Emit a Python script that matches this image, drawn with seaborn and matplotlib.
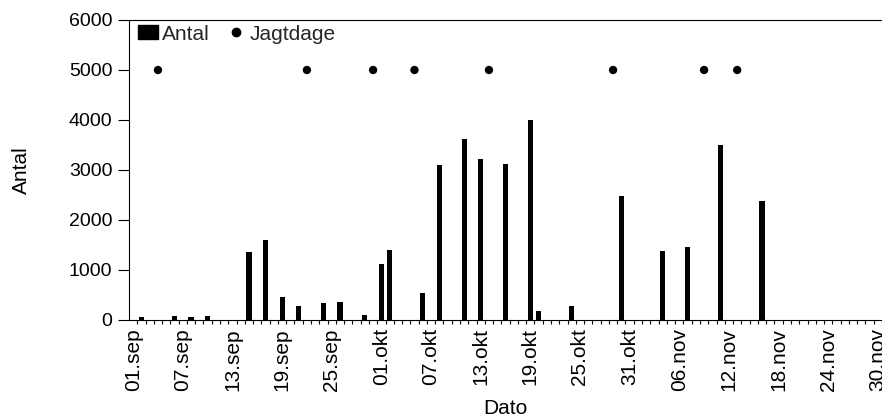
import numpy as np
import pandas as pd
import matplotlib
matplotlib.use("Agg")
import matplotlib.pyplot as plt
from matplotlib.patches import Patch
from matplotlib.lines import Line2D
import seaborn as sns

# ---- data ----
month_names = {9: "sep", 10: "okt", 11: "nov"}
all_days = [f"{d.day:02d}.{month_names[d.month]}" for d in pd.date_range("2021-09-01", "2021-11-30")]

bar_dates = ["02.sep", "06.sep", "08.sep", "10.sep", "15.sep", "17.sep", "19.sep", "21.sep",
             "24.sep", "26.sep", "29.sep", "01.okt", "02.okt", "06.okt", "08.okt", "11.okt",
             "13.okt", "16.okt", "19.okt", "20.okt", "24.okt", "30.okt", "04.nov", "07.nov",
             "11.nov", "16.nov"]
bar_values = [55, 85, 60, 85, 1360, 1600, 470, 280,
              340, 360, 110, 1120, 1410, 550, 3110, 3620,
              3220, 3130, 4000, 190, 280, 2490, 1385, 1470,
              3510, 2380]

hunt_dates = ["04.sep", "22.sep", "30.sep", "05.okt", "14.okt", "29.okt", "09.nov", "13.nov"]
hunt_value = 5000

tick_labels = ["01.sep", "07.sep", "13.sep", "19.sep", "25.sep", "01.okt", "07.okt", "13.okt",
               "19.okt", "25.okt", "31.okt", "06.nov", "12.nov", "18.nov", "24.nov", "30.nov"]

# ---- build table ----
counts = dict(zip(bar_dates, bar_values))
df = pd.DataFrame({"Dato": all_days, "Antal": [counts.get(d, 0) for d in all_days]})
hunt_df = pd.DataFrame({"pos": [all_days.index(d) for d in hunt_dates],
                        "val": [hunt_value] * len(hunt_dates)})

sns.set_theme(style="white")
plt.rcParams["font.family"] = ["Liberation Sans", "DejaVu Sans"]

fig = plt.figure(figsize=(8.82, 4.18), dpi=100)
ax = fig.add_axes([129 / 882, 1 - 320 / 418, 1 - 129 / 882, 300 / 418])

sns.barplot(data=df, x="Dato", y="Antal", order=all_days, color="black",
            width=0.62, ax=ax, saturation=1, linewidth=0)
sns.scatterplot(data=hunt_df, x="pos", y="val", color="black", s=36,
                edgecolor="none", ax=ax, zorder=3)

ax.set_xlim(-0.5, len(all_days) - 0.5)
ax.set_ylim(0, 6000)
ax.set_yticks(np.arange(0, 6001, 1000))
ax.tick_params(axis="y", direction="out", length=8, width=0.8, color="black",
               labelsize=14, pad=4, left=True, labelcolor="black")

pos = [all_days.index(t) for t in tick_labels]
ax.set_xticks(pos)
ax.set_xticklabels(tick_labels, rotation=90, fontsize=15, color="black")
ax.tick_params(axis="x", which="major", length=0, pad=6)
ax.set_xticks(np.arange(-0.5, len(all_days), 1.0)[1:], minor=True)
ax.tick_params(axis="x", which="minor", direction="out", length=3, width=0.8,
               color="black", bottom=True)

for side in ["left", "bottom", "top"]:
    ax.spines[side].set_visible(True)
    ax.spines[side].set_color("black")
    ax.spines[side].set_linewidth(0.8)
ax.spines["right"].set_visible(False)
ax.grid(False)

ax.set_ylabel("Antal", fontsize=15, color="black")
ax.yaxis.set_label_coords(-0.130, 0.5)
ax.set_xlabel("Dato", fontsize=15, color="black")
ax.xaxis.set_label_coords(0.5, -0.262)

handles = [Patch(facecolor="black", edgecolor="black"),
           Line2D([], [], marker="o", color="black", linestyle="none", markersize=6)]
ax.legend(handles, ["Antal", "Jagtdage"], loc="upper left", bbox_to_anchor=(0.012, 0.985),
          ncol=2, frameon=False, fontsize=15, handlelength=0.96, handleheight=0.67,
          handletextpad=0.2, columnspacing=0.75, borderaxespad=0, borderpad=0)

fig.savefig("out.png", dpi=100)
